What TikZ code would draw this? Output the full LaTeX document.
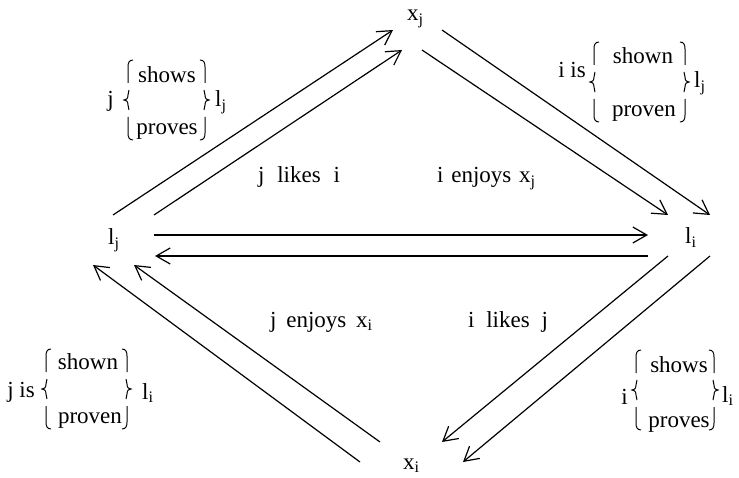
\documentclass[tikz,border=0pt]{standalone}
\usepackage{fontspec}
\setmainfont{Liberation Serif}
\usetikzlibrary{arrows.meta}
\newcommand\sub[1]{\textsubscript{#1}}
\newcommand\wsp[1]{\hspace*{\dimexpr 0.25em+#1\relax}}
\tikzset{
  lbl/.style={inner sep=0pt, font=\fontsize{23}{27}\selectfont},
  conn/.style={line width=1.2pt, -{Straight Barb[length=14pt,width=16pt,line width=1.2pt]}},
  piece/.style={line width=1pt},
}
% brace pieces: #1 x of vertical stroke, #2 middle y, #3 direction (1 = left brace, -1 = right brace)
\newcommand\BracePieces[3]{%
  \begin{scope}[shift={(#1,#2)}, xscale=#3]
    \draw[piece] (5,-40) .. controls (1,-40) and (0,-37) .. (0,-33) -- (0,-17);
    \draw[piece] (1,-10) .. controls (0,-8) .. (0,-5) .. controls (0,-1) and (-2,0) .. (-4,0)
                 .. controls (-2,0) and (0,1) .. (0,5) .. controls (0,8) .. (1,10);
    \draw[piece] (0,17) -- (0,33) .. controls (0,37) and (1,40) .. (5,40);
  \end{scope}}
\begin{document}
\begin{tikzpicture}[x=1pt, y=-1pt]
\useasboundingbox (0,0) rectangle (739,478);

% main nodes
\node[lbl, anchor=base west] (xj) at (407,21) {x\sub{j}};
\node[lbl, anchor=base west] (xi) at (403,469) {x\sub{i}};
\node[lbl, anchor=base west] (lj) at (108,245) {l\sub{j}};
\node[lbl, anchor=base west] (li) at (685,244) {l\sub{i}};

% connector end points
\coordinate (ulOs) at (113,215); \coordinate (ulOe) at (393,30);
\coordinate (ulIs) at (154,215); \coordinate (ulIe) at (402,50);
\coordinate (urOs) at (442,30);  \coordinate (urOe) at (710,215);
\coordinate (urIs) at (422,50);  \coordinate (urIe) at (668,215);
\coordinate (mTs) at (154,235);  \coordinate (mTe) at (648,235);
\coordinate (mBs) at (648,256);  \coordinate (mBe) at (155,256);
\coordinate (llOs) at (360,462); \coordinate (llOe) at (93,265);
\coordinate (llIs) at (380,442); \coordinate (llIe) at (134,265);
\coordinate (lrOs) at (710,256); \coordinate (lrOe) at (463,462);
\coordinate (lrIs) at (668,256); \coordinate (lrIe) at (442,442);

\draw[conn] (ulOs) -- (ulOe);
\draw[conn] (ulIs) -- (ulIe);
\draw[conn] (urOs) -- (urOe);
\draw[conn] (urIs) -- (urIe);
\draw[conn] (mTs) -- (mTe);
\draw[conn] (mBs) -- (mBe);
\draw[conn] (llOs) -- (llOe);
\draw[conn] (llIs) -- (llIe);
\draw[conn] (lrOs) -- (lrOe);
\draw[conn] (lrIs) -- (lrIe);

% middle labels
\node[lbl, anchor=base west] (jlikesi) at (258,183) {j\wsp{7pt}likes\wsp{7pt}i};
\node[lbl, anchor=base west] (ienjoys) at (437,183) {i\wsp{2pt}enjoys\wsp{2pt}x\sub{j}};
\node[lbl, anchor=base west] (jenjoys) at (270,327) {j\wsp{4pt}enjoys\wsp{4pt}x\sub{i}};
\node[lbl, anchor=base west] (ilikesj) at (468,327) {i\wsp{6pt}likes\wsp{6pt}j};

% top-left group
\node[lbl, anchor=base east] (tlpre) at (114,107) {j};
\node[lbl, anchor=base] (tltop) at (167,83) {shows};
\node[lbl, anchor=base] (tlbot) at (167,135) {proves};
\node[lbl, anchor=base west] (tlsuf) at (215,107) {l\sub{j}};
\BracePieces{128}{100}{1}
\BracePieces{205}{100}{-1}

% top-right group
\node[lbl, anchor=base east] (trpre) at (586,78) {i is};
\node[lbl, anchor=base] (trtop) at (643,64) {shown};
\node[lbl, anchor=base] (trbot) at (644,117) {proven};
\node[lbl, anchor=base west] (trsuf) at (694,88) {l\sub{j}};
\BracePieces{594}{82}{1}
\BracePieces{685}{82}{-1}

% bottom-left group
\node[lbl, anchor=base east] (blpre) at (35,397) {j is};
\node[lbl, anchor=base] (bltop) at (88,370) {shown};
\node[lbl, anchor=base] (blbot) at (90,423) {proven};
\node[lbl, anchor=base west] (blsuf) at (142,399) {l\sub{i}};
\BracePieces{46}{389}{1}
\BracePieces{127}{389}{-1}

% bottom-right group
\node[lbl, anchor=base east] (brpre) at (628,404) {i};
\node[lbl, anchor=base] (brtop) at (679,372) {shows};
\node[lbl, anchor=base] (brbot) at (679,427) {proves};
\node[lbl, anchor=base west] (brsuf) at (722,402) {l\sub{i}};
\BracePieces{636}{390}{1}
\BracePieces{714}{390}{-1}
\end{tikzpicture}
\end{document}
